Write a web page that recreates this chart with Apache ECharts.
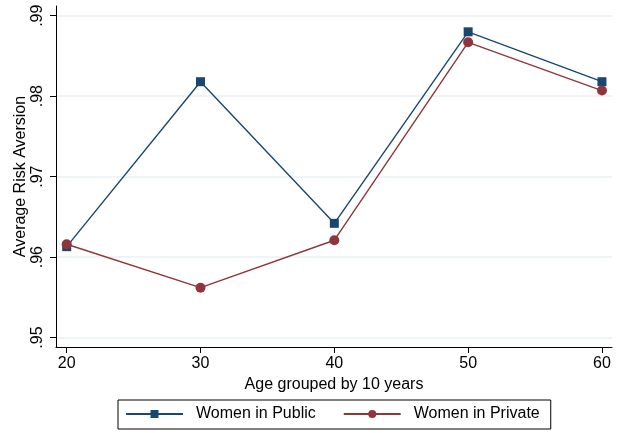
<!DOCTYPE html>
<html>
<head>
<meta charset="utf-8">
<script src="https://cdn.jsdelivr.net/npm/echarts@6/dist/echarts.min.js"></script>
<style>
html,body{margin:0;padding:0;background:#fff;}
#chart{width:621px;height:433px;}
</style>
</head>
<body>
<div id="chart"></div>
<script>
var ages = [20, 30, 40, 50, 60];
var womenPublic = [0.9613, 0.9818, 0.9642, 0.9880, 0.9818];
var womenPrivate = [0.9616, 0.9562, 0.9621, 0.9867, 0.9807];
var xTicks = [20, 30, 40, 50, 60];
var yTicks = [0.95, 0.96, 0.97, 0.98, 0.99];

var FONT = '"Liberation Sans", Arial, sans-serif';
var chart = echarts.init(document.getElementById('chart'));

function pairs(xs, ys) { return xs.map(function (x, i) { return [x, ys[i]]; }); }

chart.setOption({
  backgroundColor: '#ffffff',
  animation: false,
  textStyle: { fontFamily: FONT, color: '#000' },
  grid: { left: 56, right: 9, top: 6, bottom: 86, containLabel: false, outerBoundsMode: 'none' },
  legend: {
    left: 118, top: 400,
    padding: [6, 11, 7, 7],
    borderColor: '#000', borderWidth: 1,
    itemWidth: 57, itemHeight: 10, itemGap: 27,
    textStyle: { fontFamily: FONT, fontSize: 16, color: '#000', padding: [1, 0, 0, 8] },
    data: ['Women in Public', 'Women in Private']
  },
  xAxis: {
    type: 'value', min: 19.2, max: 60.75,
    name: 'Age grouped by 10 years', nameLocation: 'middle', nameGap: 22,
    nameTextStyle: { fontFamily: FONT, fontSize: 16, color: '#000' },
    axisLine: { show: true, lineStyle: { color: '#000', width: 1 } },
    axisTick: { show: true, length: 6, customValues: xTicks, lineStyle: { color: '#000' } },
    axisLabel: { customValues: xTicks, fontFamily: FONT, fontSize: 16, color: '#000', margin: 9 },
    splitLine: { show: false }
  },
  yAxis: {
    type: 'value', min: 0.94883, max: 0.99121,
    name: 'Average Risk Aversion', nameLocation: 'middle', nameGap: 27, nameRotate: 90,
    nameMoveOverlap: false,
    nameTextStyle: { fontFamily: FONT, fontSize: 16, color: '#000' },
    axisLine: { show: true, lineStyle: { color: '#000', width: 1 } },
    axisTick: { show: true, length: 6, customValues: yTicks, lineStyle: { color: '#000' } },
    axisLabel: {
      customValues: yTicks, rotate: 90, fontFamily: FONT, fontSize: 16, color: '#000', margin: 10,
      formatter: function (v) { return String(Math.round(v * 100) / 100).replace(/^0/, ''); }
    },
    splitLine: { show: true, lineStyle: { color: '#eaf2f3', width: 1.5 } }
  },
  series: [
    {
      name: 'Women in Public', type: 'line', data: pairs(ages, womenPublic),
      symbol: 'rect', symbolSize: 9,
      itemStyle: { color: '#1a476f' },
      lineStyle: { color: '#1a476f', width: 1.4 }
    },
    {
      name: 'Women in Private', type: 'line', data: pairs(ages, womenPrivate),
      symbol: 'circle', symbolSize: 10,
      itemStyle: { color: '#90353b' },
      lineStyle: { color: '#90353b', width: 1.4 }
    }
  ]
});
</script>
</body>
</html>
